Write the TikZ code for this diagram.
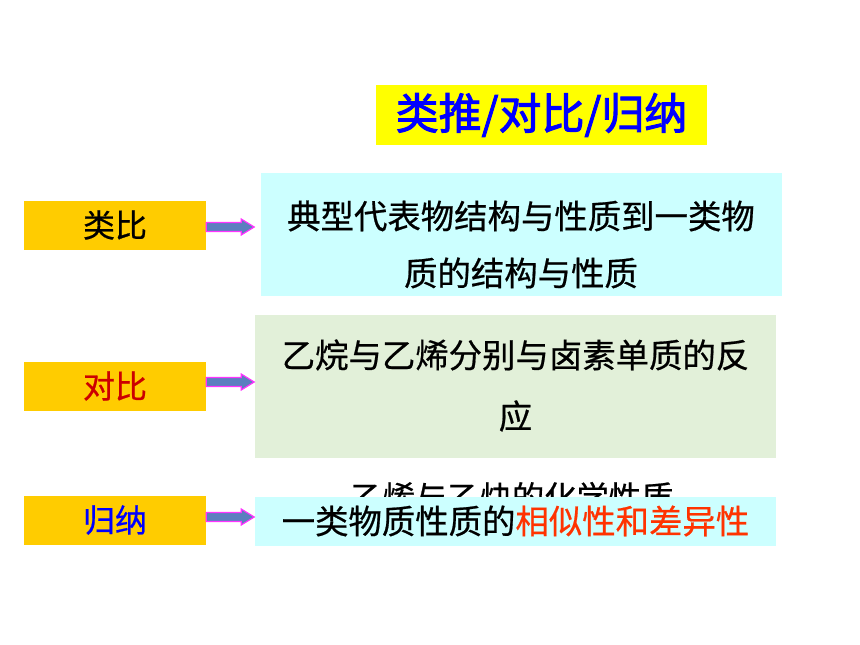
\documentclass[tikz,border=0pt]{standalone}
\usepackage{fontspec}
\setmainfont{Noto Sans CJK SC}[FakeBold=0.6]
\newfontfamily\titlefont[FakeBold=2.2]{Noto Sans CJK SC}
\usetikzlibrary{calc}
\definecolor{titleyellow}{HTML}{FFFF00}
\definecolor{titleblue}{HTML}{0000FF}
\definecolor{gold}{HTML}{FFCC00}
\definecolor{lightcyan}{HTML}{CCFFFF}
\definecolor{lightgreen}{HTML}{E2F0D9}
\definecolor{arrowblue}{HTML}{5B7FBF}
\definecolor{arrowmag}{HTML}{FF33FF}
\definecolor{darkred}{HTML}{CC0000}
\definecolor{hired}{HTML}{FF3300}
\tikzset{
  labelbox/.style={fill=gold, draw=none, minimum width=182pt, minimum height=49pt, inner sep=0pt, font=\fontsize{32}{36}\selectfont},
  panel/.style={draw=none, inner sep=0pt},
  bodytext/.style={inner sep=0pt, align=center, font=\fontsize{33.4}{57}\selectfont},
  blockarrow/.style={fill=arrowblue, draw=arrowmag, line width=1.2pt, line join=miter}
}
\begin{document}
\begin{tikzpicture}[x=1pt,y=-1pt]
\useasboundingbox (0,0) rectangle (860,645);
% title
\node[fill=titleyellow, minimum width=331pt, minimum height=60pt, inner sep=0pt, text=titleblue, font=\titlefont\fontsize{43}{45}\selectfont] (title) at (541.5,115) {类推/对比/归纳};
% left labels
\node[labelbox] (l1) at (115,225) {类比};
\node[labelbox, text=darkred] (l2) at (115,386) {对比};
\node[labelbox, text=titleblue] (l3) at (115,520) {归纳};
% right panels
\node[panel, fill=lightcyan, minimum width=521pt, minimum height=123pt] (p1) at (521.5,234.5) {};
\node[bodytext] (t1) at (521,244.5) {典型代表物结构与性质到一类物\\质的结构与性质};
\node[panel, fill=lightgreen, minimum width=521pt, minimum height=143pt] (p2) at (515.5,386.5) {};
\node[bodytext, font=\fontsize{33.4}{61}\selectfont] (t2) at (515.5,385.5) {乙烷与乙烯分别与卤素单质的反\\应};
\node[bodytext, font=\fontsize{32.3}{36}\selectfont] (hidden) at (512,497) {乙烯与乙炔的化学性质};
\node[panel, fill=lightcyan, minimum width=521pt, minimum height=49pt] (p3) at (515.5,521.5) {};
\node[bodytext] (t3) at (515.5,521) {一类物质性质的\textcolor{hired}{相似性和差异性}};
% arrows
\foreach \n/\dy in {l1/2, l2/-4, l3/-3} {
  \draw[blockarrow] ($(\n.east)+(0,\dy-4.5)$) -- ++(35,0) -- ++(0,-3.5) -- ++(13,8) -- ++(-13,8) -- ++(0,-3.5) -- ++(-35,0) -- cycle;
}
\end{tikzpicture}
\end{document}
